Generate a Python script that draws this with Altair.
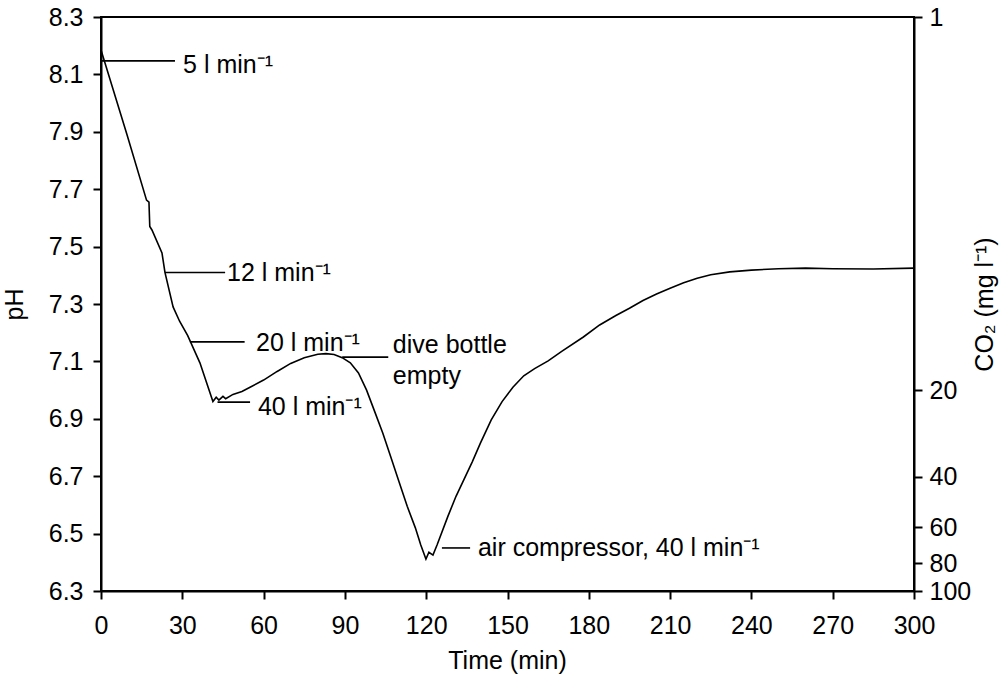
import altair as alt
import pandas as pd

# pH trace
time_min = [0, 9.6, 16.8, 17.7, 18.0, 18.8, 22.5, 23.6, 26.6, 29, 32, 36.5, 41.3, 42.5, 43.5, 45, 46,
            48.7, 52, 55, 60, 65, 70, 75, 80, 83, 86, 89, 92, 95, 98, 101, 104, 107, 110, 113,
            116, 118, 119.9, 121, 122.5, 124, 128, 131, 134, 137, 140, 144, 148, 152, 156, 160,
            165, 170, 178, 184, 190, 195, 200, 205, 210, 215, 220, 225, 232, 240, 250, 260,
            270, 285, 300]
ph = [8.185, 7.89, 7.662, 7.655, 7.57, 7.558, 7.478, 7.41, 7.29, 7.24, 7.19, 7.095, 6.96, 6.975,
      6.965, 6.978, 6.97, 6.985, 6.995, 7.01, 7.035, 7.065, 7.093, 7.113, 7.125, 7.127, 7.124,
      7.113, 7.095, 7.06, 7.0, 6.925, 6.85, 6.765, 6.68, 6.595, 6.52, 6.46, 6.411, 6.435, 6.425,
      6.46, 6.56, 6.63, 6.69, 6.75, 6.815, 6.896, 6.96, 7.01, 7.05, 7.075, 7.102, 7.135, 7.185,
      7.227, 7.26, 7.285, 7.312, 7.335, 7.355, 7.374, 7.39, 7.402, 7.412, 7.418, 7.423, 7.425,
      7.423, 7.422, 7.425]

# annotation leader lines
lead_start = [0, 23.6, 32.8, 43, 89, 125.8]
lead_end = [27.3, 45.8, 53, 55, 106, 136.2]
lead_ph = [8.147, 7.41, 7.168, 6.958, 7.115, 6.45]

label_text = ["5 l min⁻¹", "12 l min⁻¹", "20 l min⁻¹", "40 l min⁻¹", "air compressor, 40 l min⁻¹"]
label_time = [30.3, 46.5, 57.2, 57.9, 139.1]
label_ph = [8.133, 7.407, 7.164, 6.941, 6.45]

note_text = ["dive bottle", "empty"]
note_time = [107.7, 107.7]
note_ph = [7.129, 7.021]

co2_ticks = [1, 20, 40, 60, 80, 100]
ph_ticks = [6.3, 6.5, 6.7, 6.9, 7.1, 7.3, 7.5, 7.7, 7.9, 8.1, 8.3]
time_ticks = [0, 30, 60, 90, 120, 150, 180, 210, 240, 270, 300]

FONT = "Liberation Sans"
FS = 25

curve_df = pd.DataFrame({"t": time_min, "ph": ph})
lead_df = pd.DataFrame({"t1": lead_start, "t2": lead_end, "ph": lead_ph})
label_df = pd.DataFrame({"t": label_time, "ph": label_ph, "txt": label_text})
note_df = pd.DataFrame({"t": note_time, "ph": note_ph, "txt": note_text})
co2_df = pd.DataFrame({"t": [0] * len(co2_ticks), "co2": co2_ticks})

xscale = alt.Scale(domain=[0, 300], nice=False, zero=False)
yscale = alt.Scale(domain=[6.3, 8.3], nice=False, zero=False)

xaxis = alt.Axis(values=time_ticks, title="Time (min)", labelPadding=14, labelFlush=False,
                 titleX=406, titleY=77, titleBaseline="alphabetic", titleAlign="center")
yaxis = alt.Axis(values=ph_ticks, format=".1f", title="pH", labelPadding=10, labelFlush=False,
                 titleX=-79, titleY=287, titleAngle=270, titleBaseline="alphabetic",
                 titleAlign="center")

curve = alt.Chart(curve_df).mark_line(color="black", strokeWidth=1.6).encode(
    x=alt.X("t:Q", scale=xscale, axis=xaxis),
    y=alt.Y("ph:Q", scale=yscale, axis=yaxis),
)

leads = alt.Chart(lead_df).mark_rule(color="black", strokeWidth=1.6).encode(
    x=alt.X("t1:Q", scale=xscale),
    x2="t2:Q",
    y=alt.Y("ph:Q", scale=yscale),
)

labels = alt.Chart(label_df).mark_text(
    align="left", baseline="middle", font=FONT, fontSize=FS, color="black"
).encode(
    x=alt.X("t:Q", scale=xscale),
    y=alt.Y("ph:Q", scale=yscale),
    text="txt:N",
)

notes = alt.Chart(note_df).mark_text(
    align="left", baseline="alphabetic", font=FONT, fontSize=FS, color="black"
).encode(
    x=alt.X("t:Q", scale=xscale),
    y=alt.Y("ph:Q", scale=yscale),
    text="txt:N",
)

left = alt.layer(curve, leads, labels, notes)

right = alt.Chart(co2_df).mark_point(opacity=0).encode(
    x=alt.X("t:Q", scale=xscale),
    y=alt.Y("co2:Q",
            scale=alt.Scale(type="log", domain=[1, 100], reverse=True, nice=False),
            axis=alt.Axis(orient="right", values=co2_ticks, format="d", labelFlush=False,
                          title="CO₂ (mg l⁻¹)", labelPadding=7,
                          titleX=78, titleY=287, titleAngle=270,
                          titleBaseline="alphabetic", titleAlign="center")),
)

chart = alt.layer(left, right).resolve_scale(y="independent").properties(
    width=813, height=574,
    autosize=alt.AutoSizeParams(type="none"),
    padding={"left": 101, "top": 17, "right": 89, "bottom": 90},
).configure_view(
    stroke="black", strokeWidth=2
).configure_axis(
    labelFont=FONT, labelFontSize=FS, labelColor="black",
    titleFont=FONT, titleFontSize=FS, titleColor="black", titleFontWeight="normal",
    domainColor="black", domainWidth=2, tickColor="black", tickWidth=2, tickSize=8,
    grid=False,
)

chart.save("out.html", embed_options={"renderer": "svg", "actions": False})
